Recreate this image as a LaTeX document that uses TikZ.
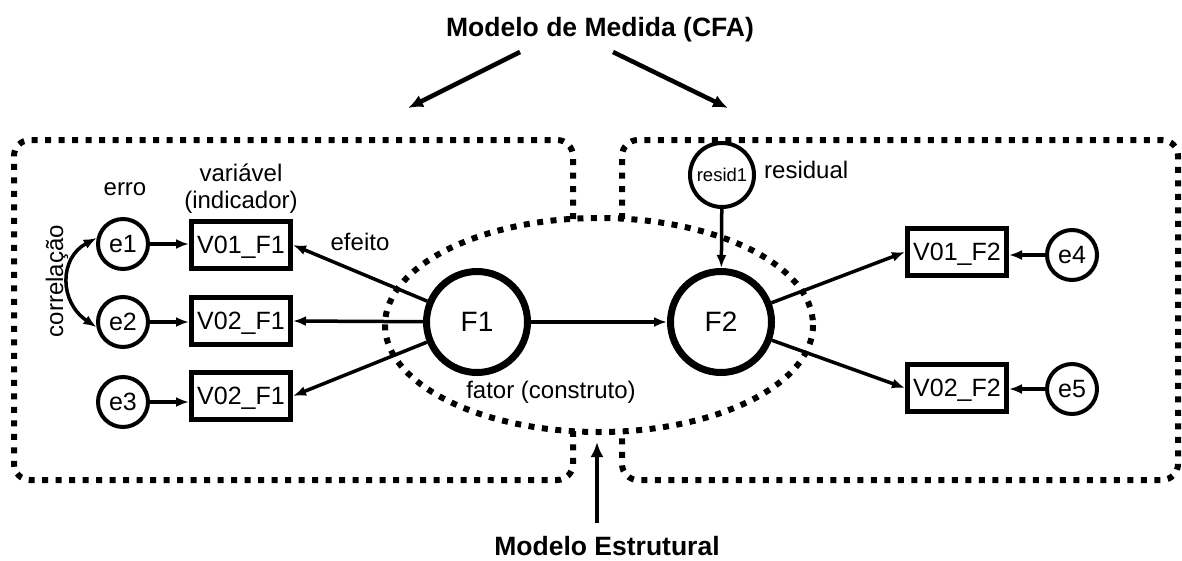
\documentclass[tikz,border=0pt]{standalone}
\usepackage{fontspec}
\setmainfont{Liberation Sans}
\usetikzlibrary{arrows.meta}
\begin{document}
\begin{tikzpicture}[x=1pt,y=-1pt,
  txt/.style={font=\fontsize{24}{27}\selectfont, inner sep=0pt},
  big/.style={font=\bfseries\fontsize{26.5}{30}\selectfont, inner sep=0pt},
  vbox/.style={draw, line width=5pt, minimum width=99pt, minimum height=47pt,
    inner sep=0pt, text depth=0pt, font=\fontsize{25}{28}\selectfont},
  err/.style={draw, circle, line width=4pt, minimum size=50pt, inner sep=0pt,
    font=\fontsize{25}{28}\selectfont},
  fac/.style={draw, circle, line width=7pt, minimum size=101pt, inner sep=0pt,
    font=\fontsize{28}{32}\selectfont},
  res/.style={draw, circle, line width=4pt, minimum size=64pt, inner sep=0pt,
    font=\fontsize{18.5}{21}\selectfont},
  link/.style={line width=3.5pt, -{Latex[length=13pt,width=10pt]}},
  pointer/.style={line width=4.5pt, -{Latex[length=15pt,width=13pt]}},
  dotline/.style={line width=6pt, dash pattern=on 6pt off 7.5pt},
]
\useasboundingbox (0,0) rectangle (1182,560);
\fill[white] (0,0) rectangle (1182,560);

% measurement-model regions and the structural ellipse
\draw[dotline, rounded corners=16pt]
  (573,219) -- (573,140) -- (14,140) -- (14,480) -- (573,480) -- (573,431);
\draw[dotline, rounded corners=16pt]
  (622,219) -- (622,140) -- (1178,140) -- (1178,480) -- (622,480) -- (622,431);
\draw[dotline] (599,325) ellipse [x radius=214, y radius=107];

% headings
\node[big, anchor=base] (cfa) at (600,36) {Modelo de Medida (CFA)};
\node[big, anchor=base] (est) at (607,555) {Modelo Estrutural};
\coordinate (cfaL) at (520,52);
\coordinate (cfaR) at (613,52);
\coordinate (boxL) at (408,108);
\coordinate (boxR) at (728,108);
\coordinate (estT) at (597,523);
\coordinate (ellB) at (597,442);
\draw[pointer] (cfaL) -- (boxL);
\draw[pointer] (cfaR) -- (boxR);
\draw[pointer] (estT) -- (ellB);

% factor F1 with its indicators
\node[err] (e1) at (123,244) {e1};
\node[err] (e2) at (123,322) {e2};
\node[err] (e3) at (123,402) {e3};
\node[vbox] (V1) at (241,245) {V01\_F1};
\node[vbox] (V2) at (241,321) {V02\_F1};
\node[vbox] (V3) at (241,396) {V02\_F1};
\node[fac] (F1) at (477,322) {F1};

% factor F2 with its indicators
\node[fac] (F2) at (721,322) {F2};
\node[res] (r1) at (722,175) {resid1};
\node[vbox] (V4) at (957,252) {V01\_F2};
\node[vbox] (V5) at (957,388) {V02\_F2};
\node[err] (e4) at (1072,255) {e4};
\node[err] (e5) at (1072,389) {e5};

% labels
\node[txt, anchor=base] (lerro) at (125,195) {erro};
\node[txt, align=center] (lvar) at (241,189) {variável\\(indicador)};
\node[txt, anchor=base] (lefe) at (360,250) {efeito};
\node[txt, anchor=base] (lfat) at (551,398) {fator (construto)};
\node[txt, anchor=base west] (lres) at (764,178) {residual};
\node[txt, rotate=90] (lcor) at (57,281) {correlação};

% connectors
\draw[link] (e1.east) -- (V1.west |- e1.east);
\draw[link] (e2.east) -- (V2.west |- e2.east);
\draw[link] (e3.east) -- (V3.west |- e3.east);
\draw[link] (F1) -- (V1.east);
\draw[link] (F1) -- (V2.east);
\draw[link] (F1) -- (V3.east);
\draw[link] (F1) -- (F2);
\draw[link] (r1) -- (F2);
\draw[link] (F2) -- (V4.west);
\draw[link] (F2) -- (V5.west);
\draw[link] (e4.west) -- (V4.east |- e4.west);
\draw[link] (e5.west) -- (V5.east |- e5.west);
\draw[line width=3.5pt, {Latex[length=13pt,width=10pt]}-{Latex[length=13pt,width=10pt]}]
  (e1.167) .. controls (59,258) and (59,302) .. (e2.191);
\end{tikzpicture}
\end{document}
